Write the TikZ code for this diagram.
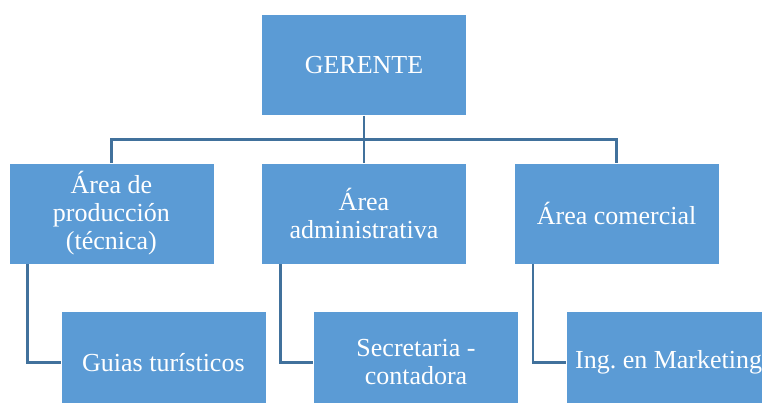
\documentclass[tikz,border=0pt]{standalone}
\usepackage{fontspec}
\setmainfont{Liberation Serif}
\usetikzlibrary{positioning}

\definecolor{boxblue}{HTML}{5B9BD5}
\definecolor{lineblue}{HTML}{41719C}

\begin{document}
\begin{tikzpicture}[x=1pt,y=-1pt,node distance=47pt,
	box/.style={rectangle,fill=boxblue,draw=white,line width=0.6pt,
		minimum width=205pt,minimum height=101pt,
		align=center,inner sep=2pt,text=white,
		font=\fontsize{26}{28}\selectfont\frenchspacing},
	link/.style={draw=lineblue,line width=2.6pt}]
	
	\clip (0,0) rectangle (762,403);
	
	\node[box] (ger) at (364,65) {GERENTE};
	\node[box] (adm) [below=of ger] {Área\\administrativa};
	\node[box] (prod) [left=of adm] {Área de\\producción\\(técnica)};
	\node[box] (com) [right=of adm] {Área comercial};
	\node[box] (guias) [below=of prod,xshift=52pt] {Guias turísticos};
	\node[box] (secr) [below=of adm,xshift=52pt] {Secretaria -\\contadora};
	\node[box] (mark) [below=of com,xshift=52pt] {Ing. en Marketing};
	
	\coordinate (bus) at ([yshift=-24pt]ger.south);
	
	\path[link]
	(ger.south) -- (adm.north)
	(bus) -| (prod.north)
	(bus) -| (com.north)
	([xshift=19pt]prod.south west) |- (guias.west)
	([xshift=19pt]adm.south west) |- (secr.west)
	([xshift=19pt]com.south west) |- (mark.west)
	;
\end{tikzpicture}
\end{document}
